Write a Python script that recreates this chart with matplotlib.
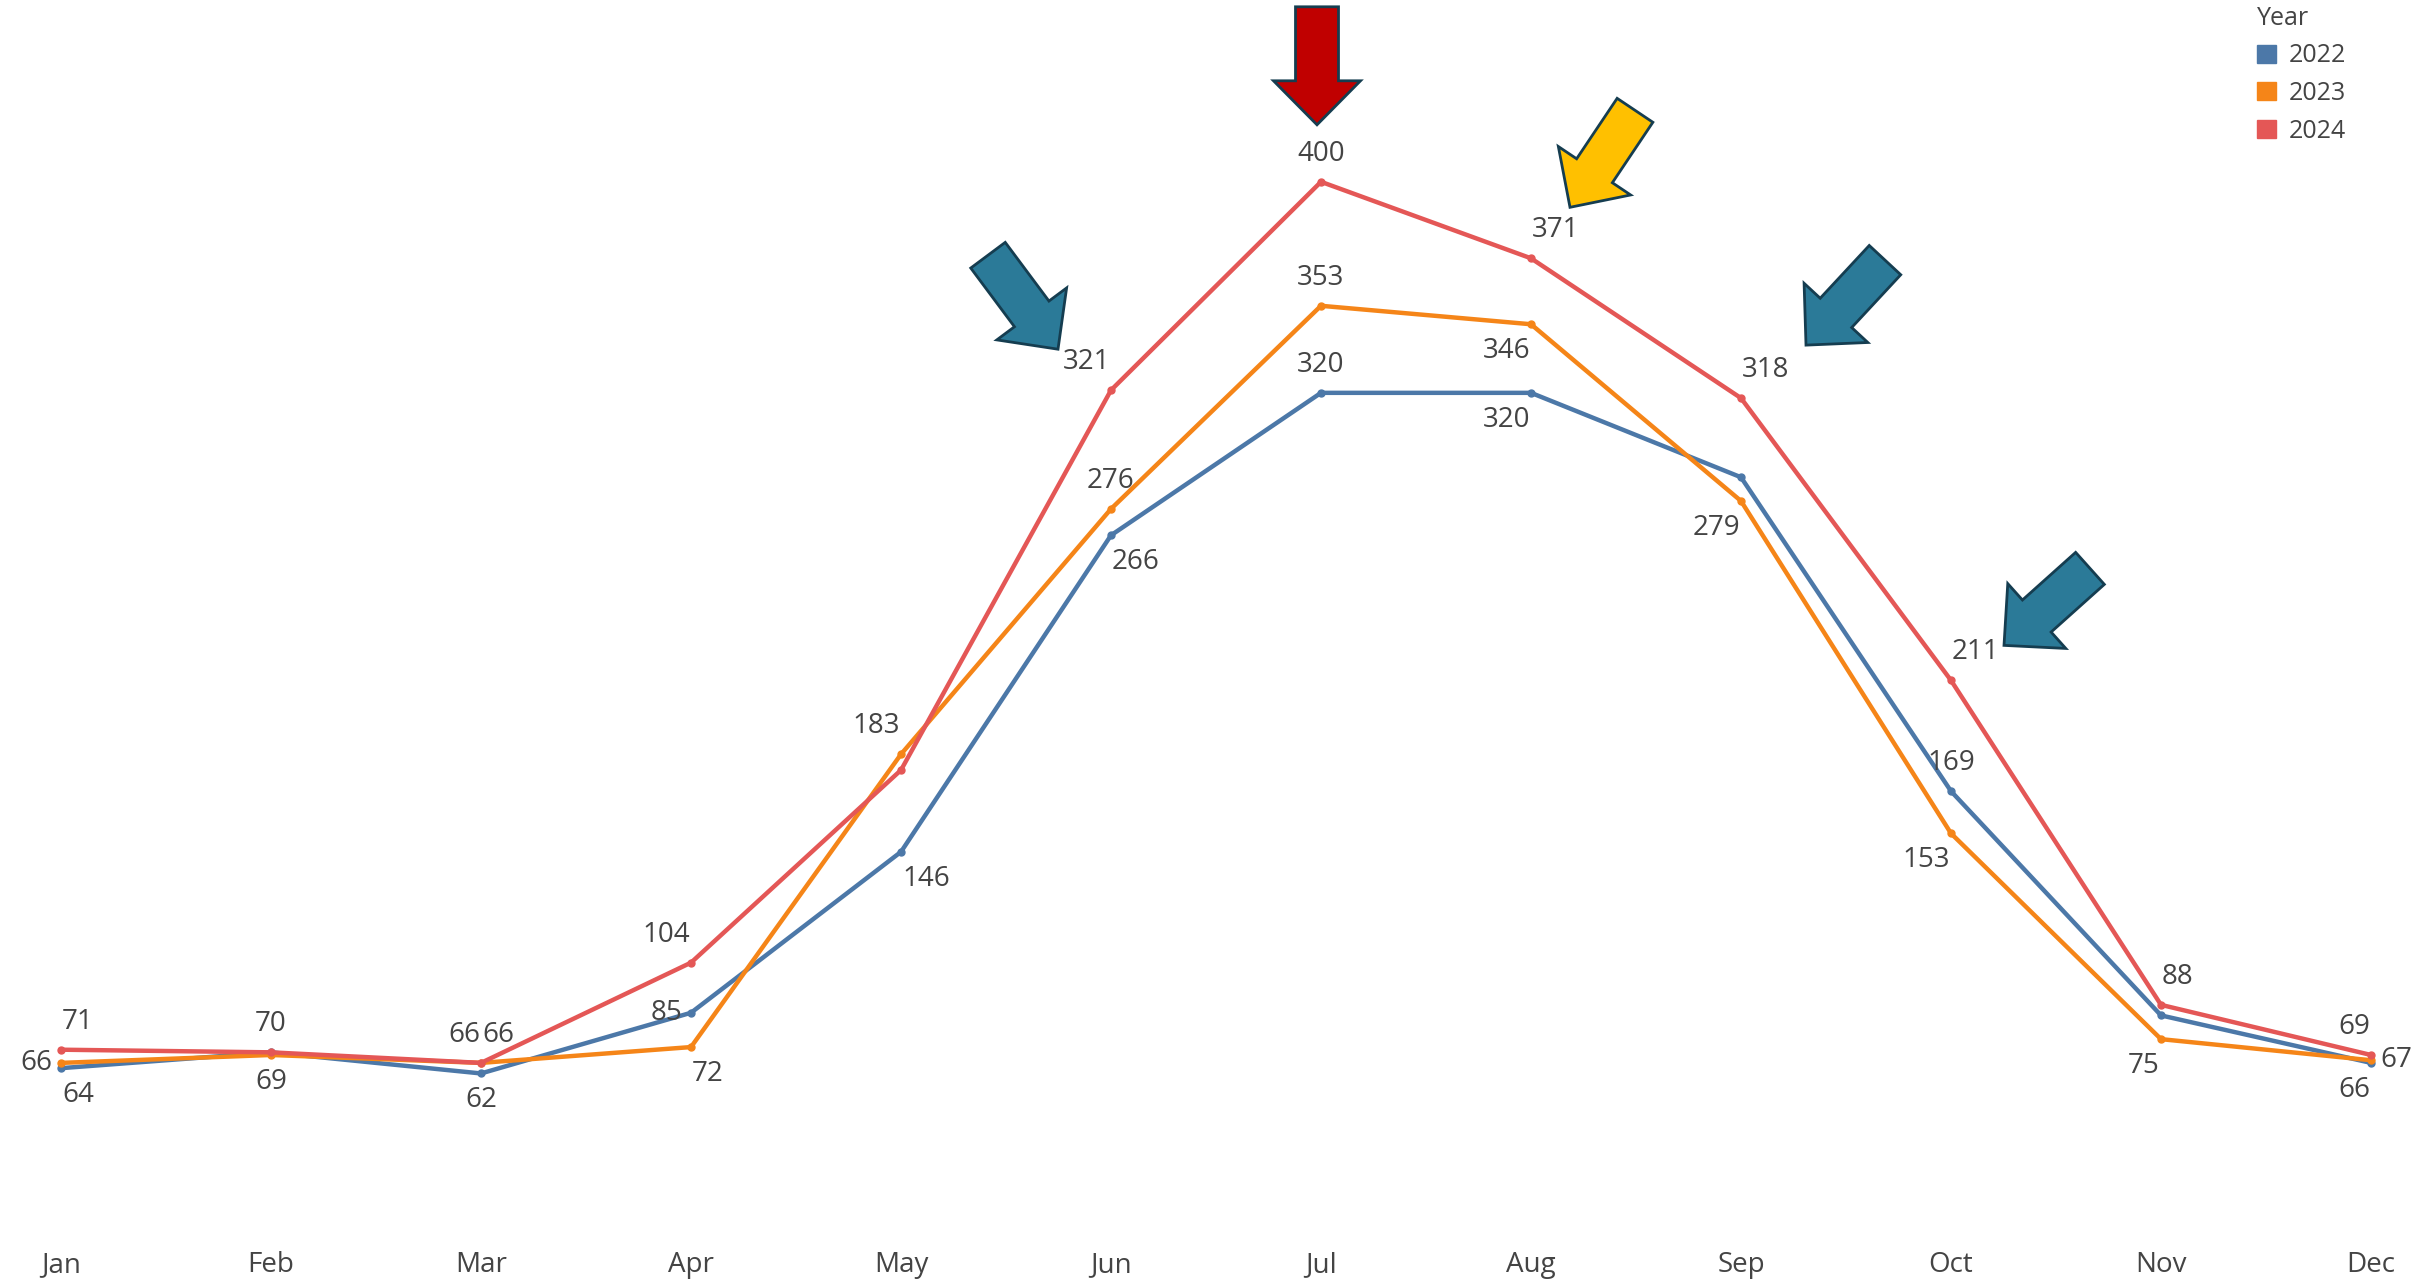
import matplotlib
matplotlib.use("Agg")
import matplotlib.pyplot as plt
from matplotlib.patches import FancyArrow, Patch

plt.rcParams['font.family'] = ['Open Sans', 'DejaVu Sans']

# monthly values per year
months = ['Jan', 'Feb', 'Mar', 'Apr', 'May', 'Jun', 'Jul', 'Aug', 'Sep', 'Oct', 'Nov', 'Dec']
years = ['2022', '2023', '2024']
v2022 = [64, 70, 62, 85, 146, 266, 320, 320, 288, 169, 84, 66]
v2023 = [66, 69, 66, 72, 183, 276, 353, 346, 279, 153, 75, 67]
v2024 = [71, 70, 66, 104, 177, 321, 400, 371, 318, 211, 88, 69]

# where each value label sits around its point (None = no label)
pos2022 = ['bottom right', None, 'bottom center', 'middle left', 'bottom right', 'bottom right',
           'top center', 'bottom left', None, 'top center', None, 'bottom left']
pos2023 = ['middle left', 'bottom center', 'top right', 'bottom right', 'top left', 'top center',
           'top center', 'bottom left', 'bottom left', 'bottom left', 'bottom left', 'middle right']
pos2024 = ['top right', 'top center', 'top left', 'top left', None, 'top left',
           'top center', 'top right', 'top right', 'top right', 'top right', 'top left']

colors = ['#4C78A8', '#F58518', '#E45756']
txt = '#444444'

W, H = 2433, 1282
fig = plt.figure(figsize=(W / 100, H / 100), dpi=100)
fig.patch.set_facecolor('white')
ax = fig.add_axes([0, 42 / H, 1, (H - 42) / H])

x = list(range(len(months)))
series = [(v2022, pos2022), (v2023, pos2023), (v2024, pos2024)]
for (vals, pos), c, name in zip(series, colors, years):
    ax.plot(x, vals, color=c, lw=3.2, marker='o', ms=5, label=name,
            solid_joinstyle='round')


def place(p):
    # pixel offset and alignment for a text position keyword
    vert, horiz = p.split()
    dy = {'top': 28, 'bottom': -27, 'middle': 0}[vert]
    if vert == 'middle':
        dx = {'left': -9, 'right': 9, 'center': 0}[horiz]
    else:
        dx = {'left': -1, 'right': 1, 'center': 0}[horiz]
    ha = {'left': 'right', 'right': 'left', 'center': 'center'}[horiz]
    return dx * 0.72, dy * 0.72, ha


for vals, pos in series:
    for i, (v, p) in enumerate(zip(vals, pos)):
        if p is None:
            continue
        dx, dy, ha = place(p)
        ax.annotate(str(v), (i, v), xytext=(dx, dy), textcoords='offset points',
                    ha=ha, va='center', fontsize=20, color=txt)

ax.set_xlim(-61 / 210, (W - 61) / 210)
ax.set_ylim((1237 - 1240) / 2.638, 1237 / 2.638)
ax.set_xticks(x)
ax.set_xticklabels(months, fontsize=20, color=txt)
ax.set_yticks([])
ax.tick_params(axis='x', length=0, pad=8)
for s in ax.spines.values():
    s.set_visible(False)

handles = [Patch(facecolor=c, edgecolor=c, label=n) for c, n in zip(colors, years)]
leg = ax.legend(handles=handles, title='Year', loc='upper left',
                bbox_to_anchor=(2257 / W, 1 - 6 / H), bbox_transform=fig.transFigure,
                frameon=False, fontsize=18, title_fontsize=18, labelcolor=txt,
                handlelength=0.75, handleheight=0.75, handletextpad=0.5,
                labelspacing=0.5, borderpad=0, borderaxespad=0, alignment='left')
leg.get_title().set_color(txt)

# callout arrows, tip placed relative to the 2024 point they highlight
fig.canvas.draw()
ov = fig.add_axes([0, 0, 1, 1])
ov.set_xlim(0, W)
ov.set_ylim(H, 0)
ov.axis('off')

teal = '#2B7A98'
callouts = [
    (6, '#C00000', (-4, -57), (0, 118)),
    (7, '#FFC000', (39, -51), (-65, 97)),
    (5, teal, (-53, -41), (70, 94)),
    (8, teal, (65, -53), (-79, 85)),
    (9, teal, (53, -35), (-86, 77)),
]
for i, fc, (ox, oy), (vx, vy) in callouts:
    px, py = ax.transData.transform((i, v2024[i]))
    tipx, tipy = px + ox, (H - py) + oy
    ov.add_patch(FancyArrow(tipx - vx, tipy - vy, vx, vy, width=43, head_width=87,
                            head_length=44, length_includes_head=True,
                            facecolor=fc, edgecolor='#153D50', lw=2))

fig.savefig('out.png', dpi=100, facecolor='white')
